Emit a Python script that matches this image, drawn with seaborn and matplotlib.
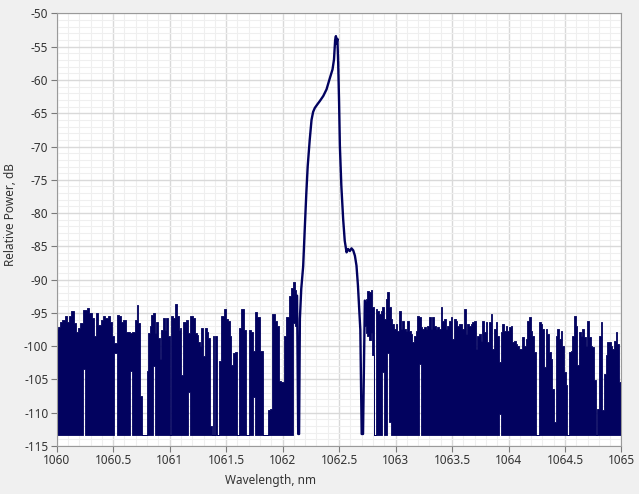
import numpy as np
import pandas as pd
import matplotlib
matplotlib.use("Agg")
import matplotlib.pyplot as plt
from matplotlib.ticker import MultipleLocator
import seaborn as sns

# ---------------- data ----------------
FLOOR = -113.3  # detection floor, dB

# left noise region: sample wavelength, top value
left_wl = [1060.00, 1060.02, 1060.04, 1060.06, 1060.08, 1060.10, 1060.12, 1060.14, 1060.16, 1060.18,
           1060.20, 1060.22, 1060.24, 1060.26, 1060.28, 1060.30, 1060.32, 1060.34, 1060.36, 1060.38,
           1060.40, 1060.42, 1060.44, 1060.46, 1060.48, 1060.50, 1060.52, 1060.54, 1060.56, 1060.58,
           1060.60, 1060.62, 1060.64, 1060.66, 1060.68, 1060.70, 1060.714, 1060.73, 1060.745, 1060.76,
           1060.775, 1060.79, 1060.802, 1060.817, 1060.831, 1060.846, 1060.861, 1060.876, 1060.89, 1060.905,
           1060.92, 1060.935, 1060.95, 1060.964, 1060.979, 1060.994, 1061.008, 1061.023, 1061.038, 1061.058,
           1061.073, 1061.085, 1061.097, 1061.112, 1061.132, 1061.15, 1061.171, 1061.191, 1061.215, 1061.233,
           1061.245, 1061.26, 1061.274, 1061.289, 1061.303, 1061.318, 1061.336, 1061.35, 1061.368, 1061.38,
           1061.392, 1061.40, 1061.41, 1061.427, 1061.445, 1061.466, 1061.492, 1061.51, 1061.525, 1061.54,
           1061.554, 1061.569, 1061.587, 1061.604, 1061.622, 1061.646, 1061.669, 1061.69, 1061.71, 1061.728,
           1061.743, 1061.767, 1061.787, 1061.811, 1061.834, 1061.858, 1061.879, 1061.90, 1061.92, 1061.938,
           1061.958, 1061.979, 1062.00, 1062.017, 1062.041, 1062.065, 1062.085, 1062.10, 1062.115, 1062.128]
left_top = [-97.4, -97.1, -96.3, -96.1, -95.5, -96.3, -95.5, -94.7, -96.5, -97.8,
            -97.3, -96.5, -94.6, -94.5, -94.3, -95.0, -95.8, -98.5, -95.0, -96.8,
            -96.0, -95.5, -95.8, -95.4, -96.3, -98.5, -99.5, -95.3, -95.4, -96.3,
            -96.1, -97.8, -97.8, -98.0, -97.8, -96.0, -93.8, -96.5, -107.5, -113.3,
            -113.3, -113.3, -103.8, -98.0, -97.0, -95.3, -95.0, -98.0, -96.3, -98.8,
            -102.0, -97.5, -95.8, -97.5, -95.8, -98.5, -113.3, -95.5, -95.8, -93.7,
            -95.5, -97.5, -97.3, -104.3, -96.3, -96.0, -98.0, -95.5, -95.8, -98.0,
            -98.3, -99.3, -100.0, -97.3, -101.5, -97.3, -97.8, -98.8, -112.0, -113.3,
            -98.5, -113.3, -98.4, -113.3, -102.2, -95.4, -94.4, -95.9, -96.2, -98.4,
            -102.9, -101.1, -100.9, -113.3, -97.2, -94.4, -97.6, -113.3, -97.6, -97.9,
            -100.7, -94.9, -95.6, -100.7, -113.3, -113.3, -109.6, -109.4, -95.2, -96.2,
            -96.9, -105.2, -105.4, -98.4, -95.6, -92.5, -91.2, -90.4, -91.5, -92.4]
# places where the trace does not reach the floor (lowest value at that sample)
left_slit_wl = [1060.24, 1060.52, 1060.66, 1060.861, 1061.171, 1061.743, 1062.10, 1062.115, 1062.128]
left_slit_low = [-103.5, -101.0, -103.8, -103.0, -106.9, -107.6, -96.5, -97.0, -96.8]

# main emission line
peak_wl = [1062.138, 1062.146, 1062.153, 1062.165, 1062.182, 1062.197, 1062.21, 1062.222, 1062.24,
           1062.256, 1062.27, 1062.285, 1062.31, 1062.33, 1062.36, 1062.389, 1062.415, 1062.442,
           1062.455, 1062.465, 1062.472, 1062.478, 1062.485, 1062.492, 1062.50, 1062.507, 1062.52,
           1062.536, 1062.55, 1062.566, 1062.58, 1062.595, 1062.61, 1062.625, 1062.64, 1062.654,
           1062.667, 1062.678, 1062.688, 1062.70, 1062.712]
peak_db = [-113.2, -113.2, -95.9, -91.4, -88.0, -82.0, -77.0, -73.0, -69.0,
           -66.0, -64.8, -64.2, -63.6, -63.15, -62.4, -61.4, -59.9, -58.4,
           -56.9, -54.0, -53.4, -54.5, -53.8, -57.4, -63.4, -69.9, -75.9,
           -80.9, -84.15, -85.9, -85.4, -85.7, -85.3, -85.6, -86.4, -87.9,
           -90.9, -94.4, -97.5, -113.2, -113.2]

# right noise region: evenly sampled from 1062.728 to 1065.0 nm
right_start, right_end = 1062.728, 1065.0
right_top = [-93.15, -92.9, -91.65, -91.9, -91.5, -94.15, -113.3, -94.4, -94.65, -95.15,
             -94.65, -94.15, -95.9, -92.9, -91.9, -94.15, -95.9, -96.65, -97.4, -96.65,
             -97.65, -94.65, -97.4, -96.15, -97.4, -97.65, -96.15, -97.65, -98.15, -99.4,
             -98.4, -97.65, -95.4, -95.65, -97.15, -97.4, -97.15, -97.4, -96.9, -95.65,
             -97.4, -95.65, -96.9, -97.4, -97.15, -97.4, -94.15, -96.15, -95.9, -97.4,
             -96.9, -96.15, -95.65, -98.9, -95.9, -96.15, -96.9, -96.65, -96.65, -97.4,
             -94.4, -98.15, -96.65, -96.9, -96.65, -96.4, -96.15, -100.4, -98.4, -98.15,
             -99.15, -96.15, -97.9, -96.4, -99.4, -96.4, -95.15, -100.4, -97.4, -96.4,
             -98.4, -102.4, -97.9, -96.65, -97.65, -96.9, -97.65, -97.15, -96.9, -99.4,
             -99.15, -99.65, -99.9, -100.4, -100.4, -98.65, -99.9, -98.9, -96.15, -95.65,
             -97.65, -98.4, -100.9, -113.3, -113.3, -96.4, -96.65, -97.4, -103.15, -97.4,
             -98.15, -100.9, -101.9, -106.4, -111.4, -98.4, -97.4, -98.9, -97.65, -99.9,
             -103.9, -105.9, -113.3, -100.9, -100.65, -98.4, -95.4, -96.9, -102.9, -97.9,
             -98.4, -97.4, -98.65, -99.9, -96.15, -98.65, -99.9, -100.15, -105.15, -113.3,
             -109.4, -98.4, -96.4, -109.65, -104.15, -101.4, -99.4, -99.4, -99.9, -100.4,
             -99.15, -97.9, -99.65, -105.4, -105.4]
right_slit_wl = [1062.728, 1062.743, 1062.757, 1062.772, 1062.787, 1062.802, 1062.890,
                 1062.934, 1062.949, 1063.215, 1063.923]
right_slit_low = [-97.0, -98.0, -98.5, -99.0, -98.0, -101.3, -103.9,
                  -101.0, -111.4, -102.7, -110.2]

x_ticks = [1060, 1060.5, 1061, 1061.5, 1062, 1062.5, 1063, 1063.5, 1064, 1064.5, 1065]
x_labels = ["1060", "1060.5", "1061", "1061.5", "1062", "1062.5", "1063", "1063.5",
            "1064", "1064.5", "1065"]
y_ticks = [-115, -110, -105, -100, -95, -90, -85, -80, -75, -70, -65, -60, -55, -50]
y_labels = [str(v) for v in y_ticks]

NAVY = "#02025f"

# ---------------- build trace ----------------
def lows_for(wl, top, slit_wl, slit_low):
    wl = np.asarray(wl, float)
    low = np.full(len(wl), FLOOR)
    for w, l in zip(slit_wl, slit_low):
        i = int(np.argmin(np.abs(wl - w)))
        low[i] = l
    return np.minimum(low, np.asarray(top, float))


left_wl_a = np.asarray(left_wl, float)
left_top_a = np.asarray(left_top, float)
left_low = lows_for(left_wl, left_top, left_slit_wl, left_slit_low)
right_wl = np.linspace(right_start, right_end, len(right_top))
right_top_a = np.asarray(right_top, float)
right_low = lows_for(right_wl, right_top, right_slit_wl, right_slit_low)

# continuous line joining the noise blocks through the emission peak
line = pd.DataFrame({
    "wl": [left_wl[-1]] + list(peak_wl) + [right_wl[0]],
    "db": [left_top[-1]] + list(peak_db) + [right_top[0]],
})

# ---------------- plot ----------------
sns.set_style("ticks")
plt.rcParams["font.family"] = ["Noto Sans", "DejaVu Sans"]

fig = plt.figure(figsize=(6.39, 4.94), dpi=100, facecolor="#f0f0f0")
ax = fig.add_axes([0.0887, 0.0972, 0.8839, 0.8755])
ax.set_facecolor("white")

# dense noise trace, drawn as the span covered at each sample
ax.fill_between(left_wl_a, left_low, left_top_a, step="mid", color=NAVY, lw=0.6,
                edgecolor=NAVY)
ax.fill_between(right_wl, right_low, right_top_a, step="mid", color=NAVY, lw=0.6,
                edgecolor=NAVY)

sns.lineplot(data=line, x="wl", y="db", sort=False, estimator=None,
             color=NAVY, lw=1.7, ax=ax)

ax.set_xlim(1060, 1065)
ax.set_ylim(-115, -50)
ax.set_xticks(x_ticks)
ax.set_xticklabels(x_labels)
ax.set_yticks(y_ticks)
ax.set_yticklabels(y_labels)
ax.xaxis.set_minor_locator(MultipleLocator(0.1))
ax.yaxis.set_minor_locator(MultipleLocator(1))

ax.set_axisbelow(True)
ax.grid(which="minor", color="#efefef", lw=0.8)
ax.grid(which="major", color="#d9d9d9", lw=1.0)

ax.tick_params(which="major", direction="out", length=4, width=0.8, color="#7a7a7a",
               labelsize=8.5, labelcolor="#333333", pad=2, bottom=True, left=True)
ax.tick_params(which="minor", length=0)

for s in ax.spines.values():
    s.set_color("#9a9a9a")
    s.set_linewidth(0.8)

ax.set_xlabel("Wavelength, nm", fontsize=8.5, color="#333333")
ax.set_ylabel("Relative Power, dB", fontsize=8.5, color="#333333")
ax.xaxis.set_label_coords(0.378, -0.065)
ax.yaxis.set_label_coords(-0.071, 0.535)

fig.savefig("out.png", dpi=100, facecolor=fig.get_facecolor())
